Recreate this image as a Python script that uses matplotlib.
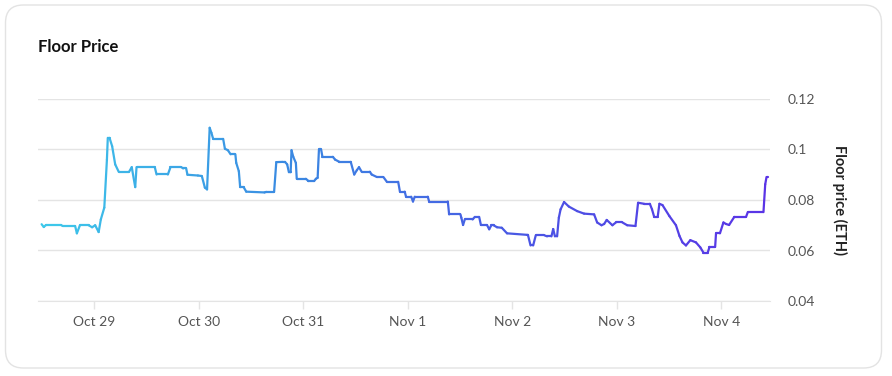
import matplotlib
matplotlib.use("Agg")
import matplotlib.pyplot as plt
import matplotlib.dates as mdates
from matplotlib.collections import LineCollection
from matplotlib.colors import LinearSegmentedColormap
from matplotlib.patches import FancyBboxPatch
from matplotlib.ticker import FuncFormatter
import numpy as np
import pandas as pd

plt.rcParams['font.family'] = ['Lato', 'DejaVu Sans']

# hours after 2021-10-28 00:00 and the floor price (ETH) at that moment
hours = [11.9, 12.4, 12.9, 16.4, 16.7, 19.6, 20.0, 20.7, 22.7, 23.5,
         24.2, 25.0, 25.5, 26.3, 26.9, 27.1, 27.5, 28.1, 28.8, 29.6,
         32.0, 32.6, 33.4, 33.7, 37.9, 38.3, 40.9, 41.5, 44.0, 44.4,
         45.1, 45.4, 47.8, 48.7, 49.4, 49.9, 50.5, 50.9, 51.3, 53.6,
         54.0, 54.7, 55.3, 56.4, 56.6, 57.2, 57.5, 58.3, 58.9, 63.1,
         63.5, 65.3, 65.8, 67.3, 67.8, 68.3, 68.7, 69.1, 69.3, 69.7,
         70.3, 70.5, 72.6, 73.2, 74.5, 74.9, 75.3, 75.6, 76.1, 76.4,
         78.8, 79.3, 80.3, 82.9, 83.7, 84.3, 84.8, 85.4, 87.3, 87.7,
         88.9, 90.4, 91.2, 93.8, 94.2, 95.3, 95.6, 96.8, 97.2, 97.6,
         100.6, 100.9, 105.2, 105.5, 108.1, 108.3, 108.7, 109.1, 110.9, 111.4,
         112.4, 112.8, 114.2, 114.7, 115.2, 115.7, 116.5, 117.6, 118.8, 123.4,
         123.6, 124.2, 124.8, 125.4, 127.4, 128.0, 129.0, 129.4, 129.8, 130.3,
         130.7, 131.1, 131.9, 133.0, 134.9, 136.5, 138.8, 139.5, 140.5, 141.1,
         141.7, 143.0, 143.8, 145.3, 146.4, 148.3, 148.9, 150.3, 151.6, 152.1,
         152.6, 153.4, 153.8, 154.5, 156.1, 157.6, 158.4, 159.1, 159.9, 160.9,
         162.2, 163.2, 163.9, 164.9, 165.3, 166.6, 166.8, 167.7, 168.5, 169.1,
         169.8, 171.0, 173.7, 174.1, 177.7, 178.1, 178.4, 178.8]
price = [0.0704, 0.0693, 0.0701, 0.0701, 0.0697, 0.0697, 0.0668, 0.0700, 0.0700, 0.0692,
         0.0700, 0.0673, 0.0723, 0.0770, 0.0960, 0.1046, 0.1046, 0.1013, 0.0941, 0.0912,
         0.0912, 0.0930, 0.0851, 0.0930, 0.0930, 0.0901, 0.0901, 0.0930, 0.0930, 0.0925,
         0.0925, 0.0900, 0.0897, 0.0895, 0.0849, 0.0842, 0.1086, 0.1066, 0.1042, 0.1042,
         0.1003, 0.0997, 0.0981, 0.0981, 0.0947, 0.0914, 0.0851, 0.0851, 0.0833, 0.0830,
         0.0832, 0.0832, 0.0950, 0.0951, 0.0951, 0.0941, 0.0910, 0.0910, 0.0997, 0.0971,
         0.0947, 0.0884, 0.0884, 0.0875, 0.0875, 0.0884, 0.0888, 0.1000, 0.1000, 0.0971,
         0.0971, 0.0960, 0.0951, 0.0951, 0.0901, 0.0918, 0.0930, 0.0912, 0.0912, 0.0901,
         0.0891, 0.0891, 0.0872, 0.0872, 0.0833, 0.0833, 0.0813, 0.0813, 0.0794, 0.0813,
         0.0813, 0.0794, 0.0794, 0.0743, 0.0743, 0.0730, 0.0701, 0.0723, 0.0723, 0.0733,
         0.0733, 0.0701, 0.0701, 0.0684, 0.0700, 0.0700, 0.0692, 0.0690, 0.0668, 0.0662,
         0.0662, 0.0620, 0.0620, 0.0660, 0.0660, 0.0656, 0.0656, 0.0685, 0.0656, 0.0656,
         0.0730, 0.0763, 0.0792, 0.0774, 0.0756, 0.0746, 0.0743, 0.0711, 0.0700, 0.0705,
         0.0721, 0.0700, 0.0711, 0.0711, 0.0700, 0.0697, 0.0789, 0.0785, 0.0785, 0.0763,
         0.0733, 0.0733, 0.0785, 0.0780, 0.0736, 0.0700, 0.0658, 0.0632, 0.0620, 0.0641,
         0.0632, 0.0612, 0.0592, 0.0592, 0.0614, 0.0614, 0.0668, 0.0668, 0.0711, 0.0705,
         0.0701, 0.0733, 0.0733, 0.0752, 0.0752, 0.0862, 0.0891, 0.0891]
y_ticks = [0.04, 0.06, 0.08, 0.10, 0.12]

start = pd.Timestamp('2021-10-28')
dates = start + pd.to_timedelta(hours, unit='h')
x = mdates.date2num(dates.to_pydatetime())
y = np.array(price)

fig = plt.figure(figsize=(8.92, 3.76), dpi=100)
fig.patch.set_facecolor('white')

card = FancyBboxPatch((5.5 / 892, 8 / 376), 876 / 892, 363 / 376,
                      boxstyle="round,pad=0,rounding_size=0.02",
                      transform=fig.transFigure, facecolor='white',
                      edgecolor='#e3e3e3', linewidth=1.0, mutation_aspect=892 / 376,
                      zorder=-10)
fig.patches.append(card)

fig.text(38 / 892, 1 - 47 / 376, "Floor Price", fontsize=12, fontweight='bold',
         color='#111111', va='center', ha='left')

ax = fig.add_axes([38 / 892, 75 / 376, 732 / 892, 202 / 376])
ax.set_facecolor('none')

pts = np.column_stack([x, y]).reshape(-1, 1, 2)
segs = np.concatenate([pts[:-1], pts[1:]], axis=1)
cmap = LinearSegmentedColormap.from_list('floor', ['#3ec8ea', '#3a8ae2', '#4a55e4', '#5a34e6'])
lc = LineCollection(segs, cmap=cmap, linewidth=1.6, capstyle='round', joinstyle='round')
lc.set_array((x[:-1] - x[0]) / (x[-1] - x[0]))
ax.add_collection(lc)

ax.set_xlim(mdates.date2num(start + pd.Timedelta(hours=11.07)),
            mdates.date2num(start + pd.Timedelta(hours=179.2)))
ax.set_ylim(0.04, 0.12)

ax.yaxis.tick_right()
ax.yaxis.set_label_position('right')
ax.set_yticks(y_ticks)
ax.yaxis.set_major_formatter(FuncFormatter(lambda v, p: '%g' % round(v, 2)))
ax.tick_params(axis='y', length=0, pad=13, labelsize=10, labelcolor='#555555')
ax.grid(axis='y', color='#e4e4e4', linewidth=1)
ax.set_axisbelow(True)

ax.xaxis.set_major_locator(mdates.DayLocator())
ax.xaxis.set_major_formatter(mdates.DateFormatter('%b %-d'))
ax.tick_params(axis='x', length=6, width=1, color='#e4e4e4', pad=5,
               labelsize=10, labelcolor='#555555')

for s in ['top', 'left', 'right']:
    ax.spines[s].set_visible(False)
ax.spines['bottom'].set_color('#e4e4e4')

ax.set_ylabel("Floor price (ETH)", rotation=270, fontsize=10.5, fontweight='bold',
              color='#222222', labelpad=12, va='bottom')

fig.savefig('out.png', dpi=100, facecolor='white')
